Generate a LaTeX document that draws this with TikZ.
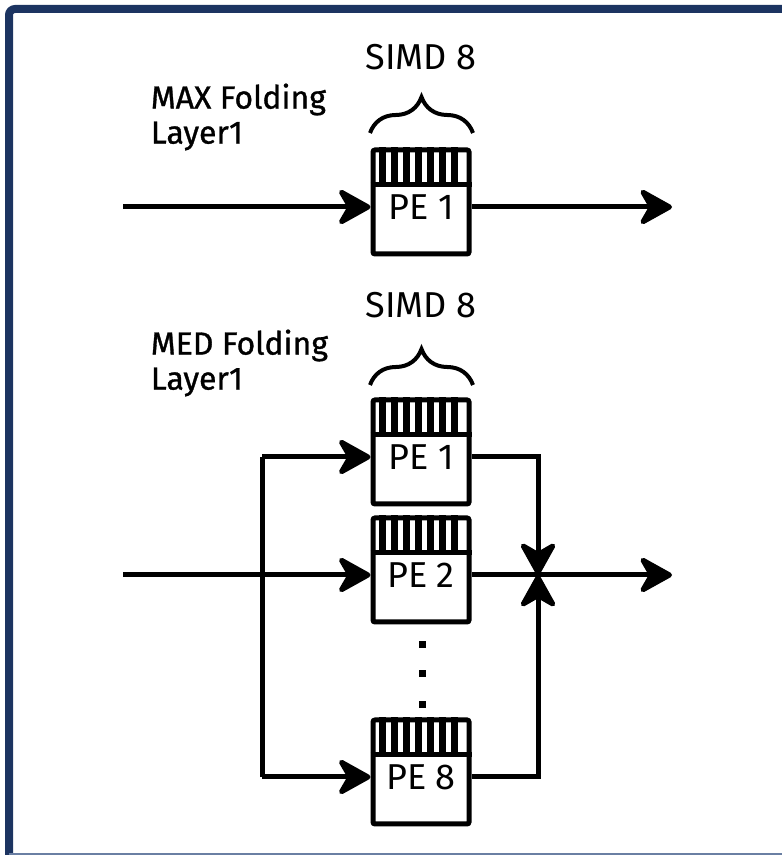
\documentclass[tikz,border=0pt]{standalone}
\usepackage{fontspec}
\setmainfont{Fira Sans}
\newfontfamily\medfont[FakeBold=1]{Fira Sans}
\usepackage{tikz}
\usetikzlibrary{arrows.meta,positioning,calc,decorations.pathreplacing}
\definecolor{framenavy}{HTML}{1C3461}
\definecolor{framegrey}{HTML}{6A7FA3}

\begin{document}
\begin{tikzpicture}[x=1pt,y=1pt,line width=5pt,
  >={Stealth[length=38pt,width=42pt,inset=12pt,round]},
  pebox/.style={draw,rounded corners=2pt,minimum width=96pt,minimum height=104pt,inner sep=0pt,
    font=\fontsize{36}{36}\selectfont,text height=36pt,text depth=0pt},
  simdlbl/.style={font=\fontsize{36}{36}\selectfont},
  foldlbl/.style={font=\medfont\fontsize{32}{35}\selectfont,align=left,anchor=west},
  lanes/.style={decorate,line width=4pt,decoration={brace,amplitude=36pt}}]
\useasboundingbox (0,0) rectangle (782,855);
% frame
\draw[framenavy,line width=8pt,rounded corners=6pt] (9,0) -- (9,846) -- (782,846);
\draw[framegrey,line width=2pt] (9,1) -- (782,1);

% MAX folding
\node[simdlbl] (simd0) at (421,798) {SIMD 8};
\node[foldlbl] (fold0) at (145,738) {MAX Folding\\Layer1};
\draw[lanes] (370,722) -- (473,722);
\node[pebox] (pe0) at (421,653) {PE 1};
\coordinate (in0) at (123,648);
\coordinate (out0) at (672,648);
\draw[->] (in0) -- ([yshift=-5pt]pe0.west);
\draw[->] ([yshift=-5pt]pe0.east) -- (out0);

% MED folding
\node[simdlbl] (simd1) at (421,550) {SIMD 8};
\node[foldlbl] (fold1) at (145,492) {MED Folding\\Layer1};
\draw[lanes] (370,470) -- (473,470);
\node[pebox] (pe1) at (421,403) {PE 1};
\node[pebox] (pe2) at (421,285) {PE 2};
\node[pebox] (pe8) at (421,83) {PE 8};
\foreach \y in {210,181,150} \fill (422,\y) +(-3.5,-3.5) rectangle +(3.5,3.5);

% SIMD lanes on top of each PE
\foreach \n in {pe0,pe1,pe2,pe8} {
  \draw ($(\n.north west)+(0,-37)$) -- ($(\n.north east)+(0,-37)$);
  \foreach \i in {1,...,7} \draw[line width=7pt] ($(\n.north west)+(\i*12,0)$) -- ++(0,-37);
}

\coordinate (bus1) at (262,398);
\coordinate (bus8) at (262,78);
\coordinate (in1) at (123,280);
\coordinate (join) at (538,280);
\coordinate (out1) at (672,280);
\draw (bus1) -- (bus8);
\draw[->] (bus1) -- ([yshift=-5pt]pe1.west);
\draw[->] (bus8) -- ([yshift=-5pt]pe8.west);
\draw[->] (in1) -- ([yshift=-5pt]pe2.west);
\draw[->] ([yshift=-5pt]pe1.east) -| (join);
\draw[->] ([yshift=-5pt]pe8.east) -| (join);
\draw[->] ([yshift=-5pt]pe2.east) -- (out1);
\end{tikzpicture}
\end{document}
